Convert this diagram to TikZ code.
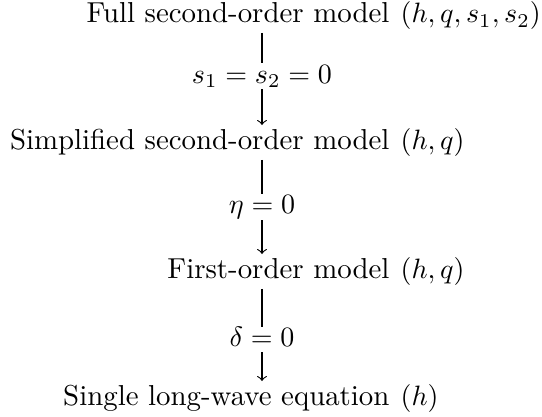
\documentclass[tikz,border=0pt]{standalone}
\usetikzlibrary{positioning}

\tikzset{
  model/.style={anchor=base east,inner xsep=0pt,inner ysep=0.9pt,
    text height=7.8pt,text depth=2.4pt,font=\fontsize{10.3pt}{12pt}\selectfont},
  vars/.style={inner xsep=0pt,inner ysep=0.9pt,text height=7.8pt,text depth=2.4pt},
  lbl/.style={fill=white,inner xsep=2pt,inner ysep=0.5pt,text height=6.6pt,text depth=1.6pt}
}

\begin{document}
\begin{tikzpicture}[x=0.357pt,y=-0.357pt]
  \useasboundingbox (0,0) rectangle (542,417);
  \coordinate (axis) at (262,0);

  % Modellene
  \node[model] (full) at (390,23) {Full second-order model};
  \node[vars,right=3.6pt of full] (fullv) {$(h,q,s_1,s_2)$};
  \node[model] (simp) at (390,150) {Simplified second-order model};
  \node[vars,right=3.6pt of simp] (simpv) {$(h,q)$};
  \node[model] (first) at (390,279) {First-order model};
  \node[vars,right=3.6pt of first] (firstv) {$(h,q)$};
  \node[model] (single) at (390,406) {Single long-wave equation};
  \node[vars,right=3.6pt of single] (singlev) {$(h)$};

  % Forenklinger
  \draw[->] (full.south -| axis) -- node[lbl,pos=0.47] {$s_1=s_2=0$} (simp.north -| axis);
  \draw[->] (simp.south -| axis) -- node[lbl,pos=0.5] {$\eta=0$} (first.north -| axis);
  \draw[->] (first.south -| axis) -- node[lbl,pos=0.55] {$\delta=0$} (single.north -| axis);
\end{tikzpicture}
\end{document}
